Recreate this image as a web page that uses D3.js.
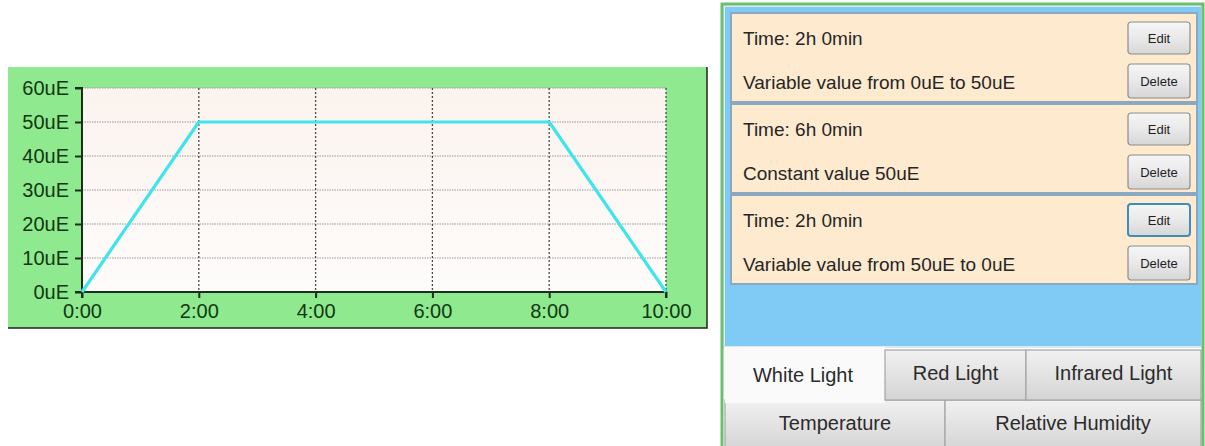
<!DOCTYPE html>
<html>
<head>
<meta charset="utf-8">
<script src="https://cdn.jsdelivr.net/npm/d3@7"></script>
<style>
  body { margin: 0; background: #fff; }
  svg { display: block; font-family: "Liberation Sans", Arial, sans-serif; }
</style>
</head>
<body>
<div id="chart"></div>
<script>
// schedule: hours vs light intensity (uE)
const hours = [0, 2, 8, 10];
const intensity = [0, 50, 50, 0];

const xTicks = [0, 2, 4, 6, 8, 10];
const yTicks = [0, 10, 20, 30, 40, 50, 60];

// segment list shown on the right
const segTimes = ["Time: 2h 0min", "Time: 6h 0min", "Time: 2h 0min"];
const segDescs = ["Variable value from 0uE to 50uE", "Constant value 50uE", "Variable value from 50uE to 0uE"];

const tabsTop = ["White Light", "Red Light", "Infrared Light"];
const tabsBottom = ["Temperature", "Relative Humidity"];

const W = 1205, H = 446;
const textGreen = "#123812";

var svg = d3.select("#chart").append("svg")
    .attr("width", W)
    .attr("height", H);

var defs = svg.append("defs");

var bgGrad = defs.append("linearGradient")
    .attr("id", "plot-bg").attr("x1", 0).attr("y1", 0).attr("x2", 0).attr("y2", 1);
bgGrad.append("stop").attr("offset", "0%").attr("stop-color", "#fbf3ee");
bgGrad.append("stop").attr("offset", "100%").attr("stop-color", "#fefcfb");

var btnGrad = defs.append("linearGradient")
    .attr("id", "btn-bg").attr("x1", 0).attr("y1", 0).attr("x2", 0).attr("y2", 1);
btnGrad.append("stop").attr("offset", "0%").attr("stop-color", "#f6f6f6");
btnGrad.append("stop").attr("offset", "50%").attr("stop-color", "#e9e9e9");
btnGrad.append("stop").attr("offset", "100%").attr("stop-color", "#d6d6d6");

var tabGrad = defs.append("linearGradient")
    .attr("id", "tab-bg").attr("x1", 0).attr("y1", 0).attr("x2", 0).attr("y2", 1);
tabGrad.append("stop").attr("offset", "0%").attr("stop-color", "#f1f1f1");
tabGrad.append("stop").attr("offset", "45%").attr("stop-color", "#e4e4e4");
tabGrad.append("stop").attr("offset", "100%").attr("stop-color", "#d4d4d4");

// ---- chart panel ----
const panel = {x: 8, y: 67, w: 699, h: 261};
const plot = {left: 82, right: 666, top: 88, bottom: 292};

svg.append("rect")
    .attr("x", panel.x).attr("y", panel.y)
    .attr("width", panel.w).attr("height", panel.h)
    .attr("fill", "#8fe98f");
svg.append("path")
    .attr("d", `M${panel.x + panel.w},${panel.y}V${panel.y + panel.h}H${panel.x}`)
    .attr("fill", "none").attr("stroke", "#222").attr("stroke-width", 1.5);

var x = d3.scaleLinear().domain([0, 10]).range([plot.left, plot.right]);
var y = d3.scaleLinear().domain([0, 60]).range([plot.bottom, plot.top]);

svg.append("rect")
    .attr("x", plot.left).attr("y", plot.top)
    .attr("width", plot.right - plot.left).attr("height", plot.bottom - plot.top)
    .attr("fill", "url(#plot-bg)");

// grid
svg.append("g")
    .selectAll("line")
    .data(yTicks.filter(d => d > 0))
  .enter().append("line")
    .attr("x1", plot.left).attr("x2", plot.right)
    .attr("y1", d => y(d)).attr("y2", d => y(d))
    .attr("stroke", "#9a9a9a").attr("stroke-width", 1.2)
    .attr("stroke-dasharray", "1.5,1");

svg.append("g")
    .selectAll("line")
    .data(xTicks.filter(d => d > 0))
  .enter().append("line")
    .attr("x1", d => x(d)).attr("x2", d => x(d))
    .attr("y1", plot.top).attr("y2", plot.bottom)
    .attr("stroke", "#4a4a4a").attr("stroke-width", 1.3)
    .attr("stroke-dasharray", "2,2");

// axes
var yAxis = svg.append("g")
    .attr("transform", `translate(${plot.left},0)`)
    .call(d3.axisLeft(y).tickValues(yTicks).tickFormat(d => d + "uE").tickSize(7).tickPadding(6));
var xAxis = svg.append("g")
    .attr("transform", `translate(0,${plot.bottom})`)
    .call(d3.axisBottom(x).tickValues(xTicks).tickFormat(d => d + ":00").tickSize(6).tickPadding(1));

[yAxis, xAxis].forEach(a => {
  a.select(".domain").attr("stroke", "#1d2e1d").attr("stroke-width", 2);
  a.selectAll(".tick line").attr("stroke", "#1d2e1d").attr("stroke-width", 2);
  a.selectAll("text")
      .attr("fill", textGreen)
      .attr("font-size", "20px")
      .attr("font-family", "Liberation Sans, Arial, sans-serif");
});
yAxis.select(".domain").attr("d", `M-7,${plot.top}H0V${plot.bottom}H-7`);
yAxis.selectAll("text").attr("dy", "0.3em");
xAxis.select(".domain").attr("d", `M${plot.left},6V0H${plot.right}V6`);
xAxis.selectAll("text").attr("dy", "0.95em");

// series
var line = d3.line()
    .x((d, i) => x(hours[i]))
    .y(d => y(d));

svg.append("path")
    .datum(intensity)
    .attr("d", line)
    .attr("fill", "none")
    .attr("stroke", "#3fe4ec")
    .attr("stroke-width", 3.2)
    .attr("stroke-linejoin", "round");

// ---- schedule panel ----
const side = {left: 722, right: 1203, top: 4};
const listBottom = 347;

svg.append("rect")
    .attr("x", side.left + 2).attr("y", side.top + 2)
    .attr("width", side.right - side.left - 3).attr("height", listBottom - side.top - 2)
    .attr("fill", "#80cbf6")
    .attr("stroke", "#dbeaf5").attr("stroke-width", 2);

const card = {x: 731, w: 466, h: 89, step: 91, top: 13};

var cards = svg.append("g")
    .selectAll("g")
    .data(segTimes.map((t, i) => ({time: t, desc: segDescs[i], i: i})))
  .enter().append("g")
    .attr("transform", d => `translate(${card.x},${card.top + d.i * card.step})`);

cards.append("rect")
    .attr("width", card.w).attr("height", card.h)
    .attr("fill", "#fdeacf")
    .attr("stroke", "#8ba8c1").attr("stroke-width", 2);

cards.append("text")
    .attr("x", 12).attr("y", 25).attr("dy", "0.35em")
    .attr("font-size", "19px").attr("fill", "#262626")
    .text(d => d.time);

cards.append("text")
    .attr("x", 12).attr("y", 69).attr("dy", "0.35em")
    .attr("font-size", "19px").attr("fill", "#262626")
    .text(d => d.desc);

function addButton(sel, label, by, bh, focused) {
  var b = sel.append("g").attr("transform", `translate(397,${by})`);
  b.append("rect")
      .attr("width", 62).attr("height", bh).attr("rx", 3)
      .attr("fill", "url(#btn-bg)")
      .attr("stroke", d => focused(d) ? "#3c8fb8" : "#8c8c8c")
      .attr("stroke-width", d => focused(d) ? 2 : 1.2);
  b.append("text")
      .attr("x", 31).attr("y", bh / 2).attr("dy", "0.35em")
      .attr("text-anchor", "middle")
      .attr("font-size", "13px").attr("fill", "#1e1e1e")
      .text(label);
}
addButton(cards, "Edit", 9, 32, d => d.i === segTimes.length - 1);
addButton(cards, "Delete", 51, 34, d => false);

// tabs
const tabTopEdges = [725, 885, 1026, 1201];
const tabBottomEdges = [725, 945, 1201];
const tabRow1 = {y: 350, h: 50};
const tabRow2 = {y: 400, h: 50};

var row2 = svg.append("g")
    .selectAll("g")
    .data(tabsBottom)
  .enter().append("g");
row2.append("rect")
    .attr("x", (d, i) => tabBottomEdges[i]).attr("y", tabRow2.y)
    .attr("width", (d, i) => tabBottomEdges[i + 1] - tabBottomEdges[i])
    .attr("height", tabRow2.h)
    .attr("fill", "url(#tab-bg)")
    .attr("stroke", "#a4a4a4").attr("stroke-width", 1.2);
row2.append("text")
    .attr("x", (d, i) => (tabBottomEdges[i] + tabBottomEdges[i + 1]) / 2)
    .attr("y", 423).attr("dy", "0.35em")
    .attr("text-anchor", "middle")
    .attr("font-size", "20px").attr("fill", "#2b2b2b")
    .text(d => d);

var row1 = svg.append("g")
    .selectAll("g")
    .data(tabsTop)
  .enter().append("g");
row1.append("rect")
    .attr("x", (d, i) => tabTopEdges[i])
    .attr("y", (d, i) => i === 0 ? listBottom : tabRow1.y)
    .attr("width", (d, i) => tabTopEdges[i + 1] - tabTopEdges[i])
    .attr("height", (d, i) => i === 0 ? tabRow1.h + tabRow1.y - listBottom + 3 : tabRow1.h)
    .attr("fill", (d, i) => i === 0 ? "#fafafa" : "url(#tab-bg)")
    .attr("stroke", (d, i) => i === 0 ? "none" : "#a4a4a4").attr("stroke-width", 1.2);
row1.append("text")
    .attr("x", (d, i) => (tabTopEdges[i] + tabTopEdges[i + 1]) / 2 + (i === 0 ? -2 : 0))
    .attr("y", (d, i) => i === 0 ? 375 : 373).attr("dy", "0.35em")
    .attr("text-anchor", "middle")
    .attr("font-size", "20px").attr("fill", "#2b2b2b")
    .text(d => d);

// green frame around the schedule panel
svg.append("path")
    .attr("d", `M${side.left},${H}V${side.top}H${side.right}V${H}`)
    .attr("fill", "none")
    .attr("stroke", "#6cbf6c").attr("stroke-width", 3);
</script>
</body>
</html>
